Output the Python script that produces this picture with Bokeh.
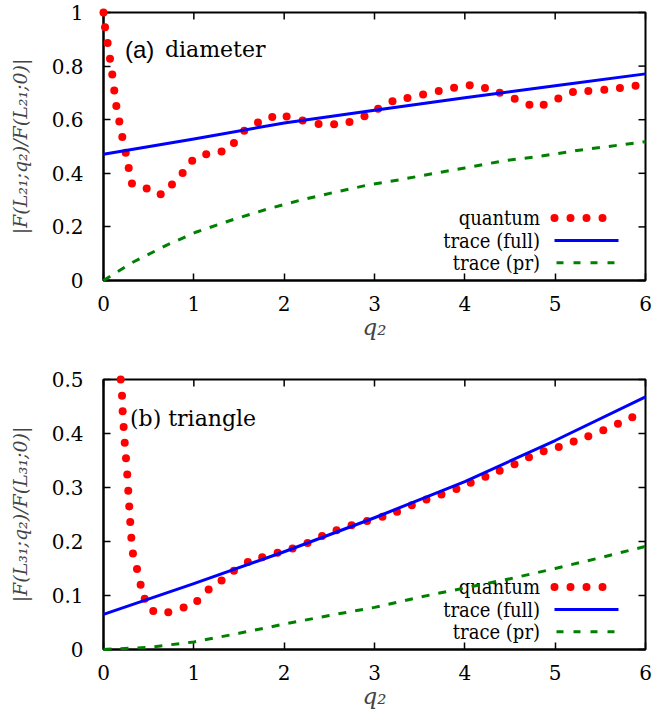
from bokeh.plotting import figure
from bokeh.models import Range1d, FixedTicker, Label, Arrow
from bokeh.layouts import column
from bokeh.embed import file_html
from bokeh.resources import INLINE

# ---------------- (a) diameter ----------------
quantum_q_a = [0.0, 0.017, 0.046, 0.072, 0.097, 0.119, 0.142, 0.175, 0.208, 0.246,
               0.279, 0.315, 0.478, 0.633, 0.758, 0.876, 0.982, 1.137, 1.307, 1.444,
               1.558, 1.710, 1.868, 2.027, 2.204, 2.381, 2.553, 2.723, 2.889, 3.040,
               3.199, 3.365, 3.538, 3.711, 3.881, 4.054, 4.223, 4.386, 4.552, 4.715,
               4.873, 5.035, 5.197, 5.367, 5.544, 5.717, 5.890]
quantum_v_a = [1.000, 0.945, 0.886, 0.827, 0.769, 0.709, 0.651, 0.593, 0.535, 0.477,
               0.420, 0.362, 0.343, 0.322, 0.358, 0.401, 0.447, 0.471, 0.481, 0.513,
               0.559, 0.590, 0.610, 0.612, 0.597, 0.584, 0.583, 0.591, 0.613, 0.641,
               0.669, 0.681, 0.694, 0.707, 0.719, 0.729, 0.718, 0.701, 0.678, 0.656,
               0.656, 0.679, 0.703, 0.707, 0.712, 0.718, 0.727]
full_q_a = [0, 1, 2, 3, 4, 5, 6]
full_v_a = [0.471, 0.528, 0.588, 0.635, 0.682, 0.727, 0.771]
pr_q_a = [0, 0.15, 0.33, 0.7, 1.03, 1.44, 1.8, 2.17, 2.54, 2.91, 3.28, 3.7, 4.0,
          4.42, 4.84, 5.24, 6.0]
pr_v_a = [0.0, 0.032, 0.069, 0.132, 0.181, 0.228, 0.265, 0.299, 0.328, 0.355, 0.376,
          0.402, 0.420, 0.446, 0.464, 0.485, 0.518]

# ---------------- (b) triangle ----------------
quantum_q_b = [0.190, 0.205, 0.212, 0.223, 0.235, 0.249, 0.263, 0.274, 0.285, 0.296,
               0.308, 0.326, 0.371, 0.411, 0.456, 0.551, 0.717, 0.887, 1.038, 1.164,
               1.307, 1.444, 1.598, 1.757, 1.927, 2.093, 2.259, 2.420, 2.580, 2.746,
               2.918, 3.088, 3.250, 3.413, 3.575, 3.741, 3.907, 4.065, 4.228, 4.386,
               4.550, 4.710, 4.873, 5.040, 5.205, 5.367, 5.533, 5.695, 5.854]
quantum_v_b = [0.500, 0.470, 0.441, 0.412, 0.383, 0.354, 0.324, 0.294, 0.265, 0.236,
               0.207, 0.178, 0.149, 0.120, 0.094, 0.0715, 0.069, 0.078, 0.090, 0.111,
               0.128, 0.146, 0.162, 0.171, 0.179, 0.187, 0.197, 0.210, 0.221, 0.230,
               0.238, 0.246, 0.255, 0.267, 0.278, 0.287, 0.297, 0.309, 0.320, 0.331,
               0.343, 0.356, 0.367, 0.375, 0.385, 0.395, 0.406, 0.418, 0.430]
full_q_b = [0, 1, 2, 3, 4, 5, 6]
full_v_b = [0.065, 0.122, 0.181, 0.244, 0.311, 0.387, 0.468]
pr_q_b = [0, 0.5, 1, 1.5, 2, 2.5, 3, 3.5, 4, 4.5, 5, 5.5, 6]
pr_v_b = [0.0, 0.004, 0.014, 0.030, 0.047, 0.063, 0.078, 0.097, 0.114, 0.131, 0.150,
          0.170, 0.191]

# ---------------- ticks and labels ----------------
x_ticks = [0, 1, 2, 3, 4, 5, 6]
x_tick_labels = ["0", "1", "2", "3", "4", "5", "6"]
y_ticks_a = [0, 0.2, 0.4, 0.6, 0.8, 1]
y_tick_labels_a = ["0", "0.2", "0.4", "0.6", "0.8", "1"]
y_ticks_b = [0, 0.1, 0.2, 0.3, 0.4, 0.5]
y_tick_labels_b = ["0", "0.1", "0.2", "0.3", "0.4", "0.5"]
legend_labels = ["quantum", "trace (full)", "trace (pr)"]

SERIF = "DejaVu Serif"
SERIF_NARROW = "DejaVu Serif Condensed, DejaVu Serif"
SANS = "Liberation Sans"
RED, BLUE, GREEN = "#ff0000", "#0000ff", "#008000"
TICK_FS = "20px"
KEY_FS = "20px"
TICK_LEN = 7  # px, inward
TICK_W = 1.5
BOX_W = 2


def style_axis(ax, ticks, labels, standoff):
    ax.ticker = FixedTicker(ticks=ticks)
    ax.major_label_overrides = {t: s for t, s in zip(ticks, labels)}
    ax.axis_line_color = "black"
    ax.axis_line_width = BOX_W
    ax.major_tick_line_color = "black"
    ax.major_tick_line_width = TICK_W
    ax.major_tick_in = TICK_LEN
    ax.major_tick_out = 0
    ax.minor_tick_line_color = None
    ax.major_label_text_font = SERIF
    ax.major_label_text_color = "black"
    ax.major_label_text_font_size = TICK_FS
    ax.major_label_standoff = standoff


def make_panel(qq, qv, fq, fv, pq, pv, ymax, yticks, ylabels, ylab,
               border_top, frame_h, border_bottom, tag, tag_font, tag_fs, tag_x, name, name_x):
    frame_w = 542
    p = figure(frame_width=frame_w, frame_height=frame_h,
               min_border_left=103, min_border_right=9,
               min_border_top=border_top, min_border_bottom=border_bottom,
               x_range=Range1d(0, 6), y_range=Range1d(0, ymax),
               output_backend="svg", toolbar_location=None,
               background_fill_color="white", border_fill_color="white")
    p.grid.visible = False
    p.outline_line_color = "black"
    p.outline_line_width = BOX_W

    # mirrored inward ticks on the top and right edges of the box
    dy = TICK_LEN * ymax / frame_h
    dx = TICK_LEN * 6.0 / frame_w
    p.segment(x0=x_ticks, y0=[ymax] * len(x_ticks), x1=x_ticks,
              y1=[ymax - dy] * len(x_ticks), line_color="black", line_width=TICK_W,
              level="overlay")
    p.segment(x0=[6] * len(yticks), y0=yticks, x1=[6 - dx] * len(yticks), y1=yticks,
              line_color="black", line_width=TICK_W, level="overlay")

    # curves: quantum dots first, the two trace curves on top (not clipped at the box)
    p.scatter(qq, qv, size=8, color=RED, line_color=None, level="overlay")
    p.line(fq, fv, line_color=BLUE, line_width=3, line_join="round", level="overlay")
    p.line(pq, pv, line_color=GREEN, line_width=3, line_dash="8 9", line_join="round",
           level="overlay")

    xa = p.xaxis[0]
    style_axis(xa, x_ticks, x_tick_labels, 15)
    xa.axis_label = "q\u2082"
    xa.axis_label_text_font = SERIF
    xa.axis_label_text_font_style = "italic"
    xa.axis_label_text_font_size = "23px"
    xa.axis_label_standoff = 0

    ya = p.yaxis[0]
    style_axis(ya, yticks, ylabels, 20)
    ya.axis_label = ylab
    ya.axis_label_text_font = SERIF
    ya.axis_label_text_font_style = "italic"
    ya.axis_label_text_font_size = "19px"
    ya.axis_label_standoff = 18

    # panel caption
    p.add_layout(Label(x=tag_x, y=231, x_units="screen", y_units="screen", text=tag,
                       text_font=tag_font, text_font_size=tag_fs, text_color="black",
                       text_baseline="alphabetic"))
    if name:
        p.add_layout(Label(x=name_x, y=231, x_units="screen", y_units="screen", text=name,
                           text_font=SERIF, text_font_size="22px", text_color="black",
                           text_baseline="alphabetic"))

    # key: label on the left, sample on the right
    rows = [62.5, 40.0, 17.7]
    for lab, yy in zip(legend_labels, rows):
        p.add_layout(Label(x=436.5, y=yy, x_units="screen", y_units="screen", text=lab,
                           text_font=SERIF_NARROW, text_font_size=KEY_FS, text_color="black",
                           text_align="right", text_baseline="middle"))
    p.add_layout(Arrow(end=None, x_start=451, x_end=500, y_start=rows[0], y_end=rows[0],
                       start_units="screen", end_units="screen", line_color=RED,
                       line_width=8, line_dash="0 16", line_cap="round"))
    p.add_layout(Arrow(end=None, x_start=451, x_end=515, y_start=rows[1], y_end=rows[1],
                       start_units="screen", end_units="screen", line_color=BLUE,
                       line_width=3))
    p.add_layout(Arrow(end=None, x_start=453, x_end=512, y_start=rows[2], y_end=rows[2],
                       start_units="screen", end_units="screen", line_color=GREEN,
                       line_width=3, line_dash="7 10"))
    return p


p_a = make_panel(quantum_q_a, quantum_v_a, full_q_a, full_v_a, pr_q_a, pr_v_a, 1.0,
                 y_ticks_a, y_tick_labels_a, "|F(L\u2082\u2081;q\u2082)/F(L\u2082\u2081;0)|",
                 12, 268, 72, "(a)", SANS, "24px", 21.5, "diameter", 61.5)
p_b = make_panel(quantum_q_b, quantum_v_b, full_q_b, full_v_b, pr_q_b, pr_v_b, 0.5,
                 y_ticks_b, y_tick_labels_b, "|F(L\u2083\u2081;q\u2082)/F(L\u2083\u2081;0)|",
                 27, 270, 73, "(b) triangle", SERIF, "22px", 26.5, None, 0)

layout = column(p_a, p_b, spacing=0)
open("out.html", "w").write(file_html(layout, INLINE))
